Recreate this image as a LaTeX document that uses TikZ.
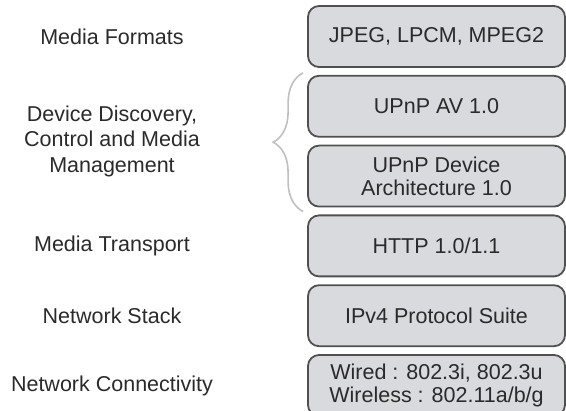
\documentclass[tikz,border=0pt]{standalone}
\usepackage{fontspec}
\setmainfont{Liberation Sans}
\usepackage{tikz}
\usetikzlibrary{positioning, calc, decorations.pathreplacing}
\definecolor{boxfill}{RGB}{217,218,221}
\definecolor{boxline}{RGB}{80,80,80}
\definecolor{txtgray}{RGB}{42,42,42}
\definecolor{bracegray}{RGB}{192,192,192}
\tikzset{
  layerbox/.style={rectangle, rounded corners=11pt, draw=boxline, line width=1.8pt,
                   fill=boxfill, minimum width=257pt, minimum height=61pt,
                   align=center, text=txtgray, inner sep=2pt,
                   font=\fontsize{21.5}{23}\selectfont},
  layerlbl/.style={align=center, text=txtgray, font=\fontsize{21.5}{25.5}\selectfont},
  grpbrace/.style={draw=bracegray, line width=1.6pt, decorate,
                   decoration={brace, amplitude=30pt}},
}

\begin{document}
\begin{tikzpicture}[x=1pt, y=-1pt, node distance=7pt]
    \useasboundingbox (0,0) rectangle (566,411);
    \coordinate (labx) at (112,0);
    % protocol layers
    \node[layerbox] (fmt) at (436.5,36.5) {JPEG, LPCM, MPEG2};
    \node[layerbox, below=of fmt] (av) {UPnP AV 1.0};
    \node[layerbox, below=of av] (dev) {UPnP Device\\Architecture 1.0};
    \node[layerbox, below=of dev] (http) {HTTP 1.0/1.1};
    \node[layerbox, below=of http] (ipv4) {IPv4 Protocol Suite};
    \node[layerbox, below=of ipv4] (phy) {Wired : 802.3i, 802.3u\\Wireless : 802.11a/b/g};
    % layer names
    \coordinate (devmid) at ($(av)!0.5!(dev)$);
    \node[layerlbl] (lfmt) at (fmt -| labx) {Media Formats};
    \node[layerlbl] (ldev) at (devmid -| labx) {Device Discovery,\\Control and Media\\Management};
    \node[layerlbl] (lhttp) at (http -| labx) {Media Transport};
    \node[layerlbl] (lipv4) at (ipv4 -| labx) {Network Stack};
    \node[layerlbl] (lphy) at (phy -| labx) {Network Connectivity};
    % brace over the two UPnP layers
    \coordinate (btop) at ($(av.north west)+(-4,-2)$);
    \coordinate (bbot) at ($(dev.south west)+(-4,4)$);
    \draw[grpbrace] (bbot) -- (btop);
\end{tikzpicture}
\end{document}
